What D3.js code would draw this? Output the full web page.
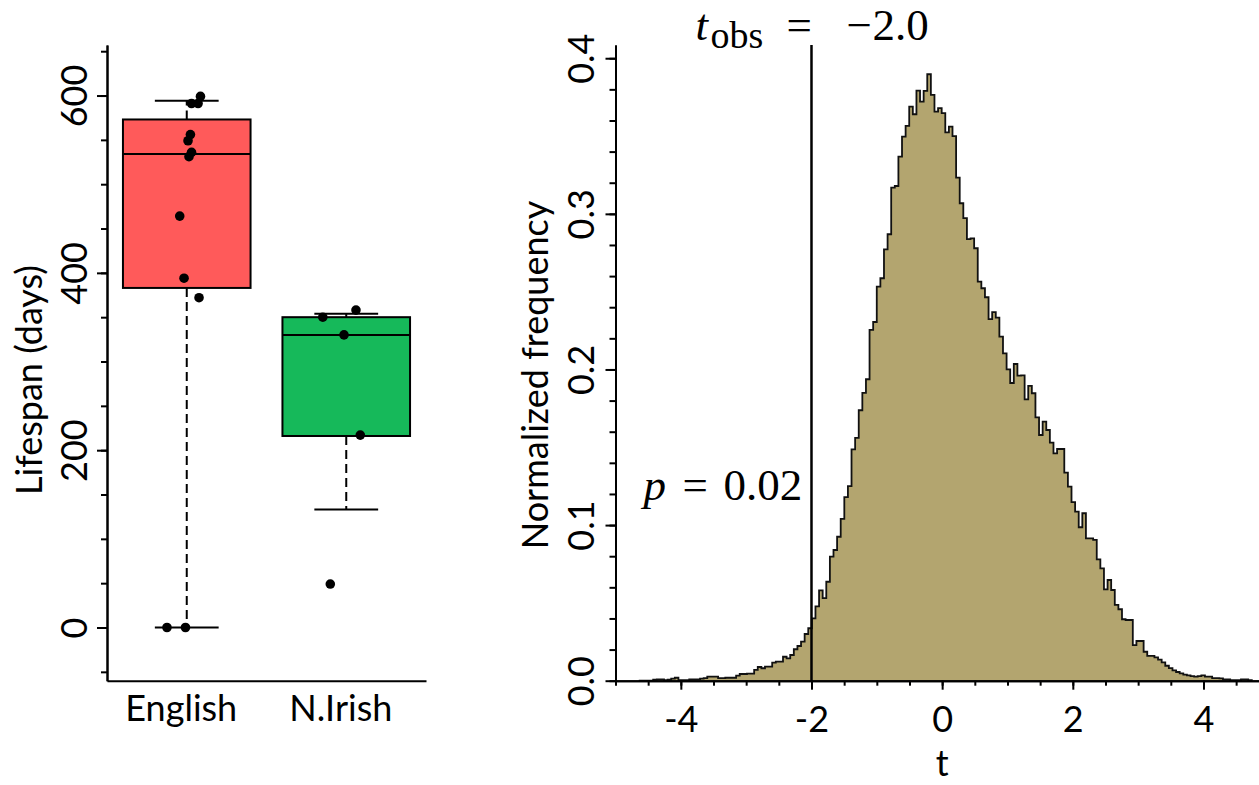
<!DOCTYPE html>
<html lang="en">
<head>
<meta charset="UTF-8">
<title>Lifespan and permutation t distribution</title>
<script src="https://d3js.org/d3.v7.min.js"></script>
<style>
  body { margin: 0; background: #fff; }
  svg text { font-family: Lato, "Open Sans", sans-serif; fill: #000; }
  .math { font-family: "Liberation Serif", "DejaVu Serif", serif; }
</style>
</head>
<body>
<svg width="1259" height="785"></svg>
<script>
// ---------- boxplot data ----------
const groups = ["English", "N.Irish"];
const groupColors = ["#FF5A5A", "#16B95A"];
const boxLow = [0, 133];
const boxQ1 = [383, 216];
const boxMedian = [534, 330];
const boxQ3 = [573, 350];
const boxHigh = [594, 354];
const englishDays = [599, 591, 591, 556, 549, 536, 531, 464, 394, 372, 0, 0];
const englishJitter = [0.086, 0.03, 0.071, 0.023, 0.008, 0.03, 0.014, -0.044, -0.017, 0.077, -0.124, -0.008];
const irishDays = [358, 350, 330, 217, 49];
const irishJitter = [0.061, -0.147, -0.014, 0.088, -0.1];
const lifespanTicks = [0, 200, 400, 600];

// ---------- histogram data (normalized frequency per bin) ----------
const binStart = -4.644;
const binWidth = 0.0552;
const freq = [
  0, 0, 0, 0, 0.0006, 0.0009, 0.0009, 0.0004, 0.0006, 0.0013,
  0.0019, 0.0004, 0.0004, 0.0004, 0.0009, 0.0009, 0.0009, 0.0013, 0.0016, 0.0026,
  0.0026, 0.0026, 0.0016, 0.0016, 0.0019, 0.0019, 0.0019, 0.0032, 0.0043, 0.0043,
  0.0045, 0.0045, 0.0069, 0.0088, 0.0080, 0.0090, 0.0090, 0.0116, 0.0122, 0.0122,
  0.0154, 0.0144, 0.0165, 0.0202, 0.0223, 0.0251, 0.0300, 0.0337, 0.0400, 0.0478,
  0.0580, 0.0530, 0.0636, 0.0797, 0.0840, 0.0925, 0.1040, 0.1180, 0.1250, 0.1487,
  0.1560, 0.1738, 0.1850, 0.1937, 0.2254, 0.2305, 0.2532, 0.2586, 0.2772, 0.2869,
  0.3168, 0.3179, 0.3368, 0.3496, 0.3565, 0.3689, 0.3640, 0.3792, 0.3721, 0.3790,
  0.3897, 0.3764, 0.3657, 0.3679, 0.3647, 0.3524, 0.3560, 0.3500, 0.3233, 0.3068,
  0.2972, 0.2837, 0.2843, 0.2779, 0.2564, 0.2522, 0.2464, 0.2323, 0.2368, 0.2333,
  0.2211, 0.2104, 0.2001, 0.1913, 0.2035, 0.1960, 0.1962, 0.1808, 0.1894, 0.1847,
  0.1692, 0.1579, 0.1665, 0.1611, 0.1530, 0.1461, 0.1489, 0.1489, 0.1337, 0.1247,
  0.1147, 0.1086, 0.0986, 0.1076, 0.0915, 0.0915, 0.0905, 0.0780, 0.0722, 0.0587,
  0.0647, 0.0583, 0.0487, 0.0459, 0.0395, 0.0390, 0.0390, 0.0229, 0.0255, 0.0255,
  0.0186, 0.0159, 0.0159, 0.0150, 0.0135, 0.0118, 0.0096, 0.0081, 0.0066, 0.0056,
  0.0047, 0.0039, 0.0034, 0.0030, 0.0026, 0.0030, 0.0034, 0.0026, 0.0026, 0.0017,
  0.0017, 0.0015, 0.0009, 0.0009, 0.0004, 0.0004, 0.0004, 0.0009, 0.0009, 0.0004
];
const tTicks = [-4, -2, 0, 2, 4];
const freqTicks = [0, 0.1, 0.2, 0.3, 0.4];
const tObs = -2.0;
const pValue = "0.02";

const svg = d3.select("svg");
const fontSize = 36;

// rotate tick labels so they read bottom to top, like the original
function rotateTickText(g, offset) {
  g.selectAll(".tick text")
    .attr("x", 0).attr("y", 0).attr("dy", null)
    .attr("text-anchor", "middle")
    .style("font-size", fontSize + "px")
    .attr("transform", `translate(${-offset},0) rotate(-90)`);
}
function styleAxis(g, width) {
  g.attr("font-family", null).attr("font-size", null);
  g.selectAll("path, line").attr("stroke", "#000").attr("stroke-width", width);
}

// ================= left panel: boxplot =================
const xBox = d3.scalePoint().domain(groups).range([107, 426]).padding(0.5);
const yBox = d3.scaleLinear().domain([-60, 657]).range([680.7, 45]);
const step = xBox.step();

// minor ticks
svg.append("g")
  .attr("transform", "translate(107,0)")
  .call(d3.axisLeft(yBox).tickValues(d3.range(-50, 651, 50)).tickSize(6).tickFormat("").tickSizeOuter(0))
  .call(g => styleAxis(g, 2));
// major ticks
svg.append("g")
  .attr("transform", "translate(107,0)")
  .call(d3.axisLeft(yBox).tickValues(lifespanTicks).tickSize(10).tickSizeOuter(0))
  .call(g => styleAxis(g, 2))
  .call(g => rotateTickText(g, 20));

svg.append("g")
  .attr("transform", "translate(0,680.7)")
  .call(d3.axisBottom(xBox).tickSize(0).tickPadding(15).tickSizeOuter(0))
  .call(g => styleAxis(g, 2))
  .call(g => g.selectAll(".tick text").style("font-size", fontSize + "px").attr("dx", -6));

svg.append("text")
  .attr("text-anchor", "middle")
  .attr("transform", "translate(42,380) rotate(-90)")
  .style("font-size", fontSize + "px")
  .text("Lifespan (days)");

const boxes = svg.append("g");
groups.forEach((g, i) => {
  const cx = xBox(g);
  const bw = step * 0.8;
  const cw = step * 0.4;
  // whiskers
  [[boxQ1[i], boxLow[i]], [boxQ3[i], boxHigh[i]]].forEach(([a, b]) => {
    boxes.append("line")
      .attr("x1", cx).attr("x2", cx)
      .attr("y1", yBox(a)).attr("y2", yBox(b))
      .attr("stroke", "#000").attr("stroke-width", 2)
      .attr("stroke-dasharray", "9,5");
  });
  [boxLow[i], boxHigh[i]].forEach(v => {
    boxes.append("line")
      .attr("x1", cx - cw / 2).attr("x2", cx + cw / 2)
      .attr("y1", yBox(v)).attr("y2", yBox(v))
      .attr("stroke", "#000").attr("stroke-width", 2);
  });
  boxes.append("rect")
    .attr("x", cx - bw / 2).attr("width", bw)
    .attr("y", yBox(boxQ3[i])).attr("height", yBox(boxQ1[i]) - yBox(boxQ3[i]))
    .attr("fill", groupColors[i])
    .attr("stroke", "#000").attr("stroke-width", 2);
  boxes.append("line")
    .attr("x1", cx - bw / 2).attr("x2", cx + bw / 2)
    .attr("y1", yBox(boxMedian[i])).attr("y2", yBox(boxMedian[i]))
    .attr("stroke", "#000").attr("stroke-width", 2);
});

const points = englishDays.map((v, i) => ({ g: "English", v, j: englishJitter[i] }))
  .concat(irishDays.map((v, i) => ({ g: "N.Irish", v, j: irishJitter[i] })));
svg.append("g").selectAll("circle")
  .data(points)
  .join("circle")
  .attr("cx", d => xBox(d.g) + d.j * step)
  .attr("cy", d => yBox(d.v))
  .attr("r", 4.8)
  .attr("fill", "#000");

// ================= right panel: histogram =================
const xT = d3.scaleLinear().domain([-5, 5]).range([615.5, 1268.8]);
const yF = d3.scaleLinear().domain([0, 0.4085]).range([680.7, 45]);

const bins = freq.map((f, i) => ({ t: binStart + i * binWidth, f }));
bins.push({ t: binStart + freq.length * binWidth, f: 0 });

svg.append("path")
  .datum(bins)
  .attr("fill", "#B3A56F")
  .attr("d", d3.area().curve(d3.curveStepAfter).x(d => xT(d.t)).y0(yF(0)).y1(d => yF(d.f)));
svg.append("path")
  .datum(bins)
  .attr("fill", "none")
  .attr("stroke", "#111")
  .attr("stroke-width", 1.8)
  .attr("d", d3.line().curve(d3.curveStepAfter).x(d => xT(d.t)).y(d => yF(d.f)));

// axes
svg.append("g")
  .attr("transform", "translate(615.5,0)")
  .call(d3.axisLeft(yF).tickValues(d3.range(0, 0.41, 0.02)).tickSize(6).tickFormat("").tickSizeOuter(0))
  .call(g => styleAxis(g, 2));
svg.append("g")
  .attr("transform", "translate(615.5,0)")
  .call(d3.axisLeft(yF).tickValues(freqTicks).tickSize(10).tickFormat(d3.format(".1f")).tickSizeOuter(0))
  .call(g => styleAxis(g, 2))
  .call(g => rotateTickText(g, 22));

svg.append("g")
  .attr("transform", "translate(0,680.7)")
  .call(d3.axisBottom(xT).tickValues(d3.range(-5, 5.01, 0.5)).tickSize(5).tickFormat("").tickSizeOuter(0))
  .call(g => styleAxis(g, 2));
svg.append("g")
  .attr("transform", "translate(0,680.7)")
  .call(d3.axisBottom(xT).tickValues(tTicks).tickSize(9).tickPadding(17).tickFormat(d3.format("d")).tickSizeOuter(0))
  .call(g => styleAxis(g, 2))
  .call(g => g.selectAll(".tick text").style("font-size", fontSize + "px").text(d => String(d)));

svg.append("text")
  .attr("x", xT(0)).attr("y", 776)
  .attr("text-anchor", "middle")
  .style("font-size", fontSize + "px")
  .text("t");

svg.append("text")
  .attr("text-anchor", "middle")
  .attr("transform", "translate(548,375) rotate(-90)")
  .style("font-size", fontSize + "px")
  .text("Normalized frequency");

// observed statistic
const xLine = xT(tObs);
svg.append("line")
  .attr("x1", xLine).attr("x2", xLine)
  .attr("y1", yF.range()[1]).attr("y2", yF(0))
  .attr("stroke", "#000").attr("stroke-width", 2.5);

const obs = svg.append("text").attr("class", "math").attr("y", 40).style("font-size", "45px");
obs.append("tspan").attr("x", xLine - 116).style("font-style", "italic").text("t");
obs.append("tspan").attr("x", xLine - 101).attr("dy", 8).style("font-size", "38px").text("obs");
obs.append("tspan").attr("x", xLine - 25).attr("dy", -8).text("=");
obs.append("tspan").attr("x", xLine + 35).text("\u2212");
obs.append("tspan").attr("x", xLine + 61).text(tObs.toFixed(1).replace("-", ""));

const pLab = svg.append("text").attr("class", "math").attr("y", 500).style("font-size", "45px");
pLab.append("tspan").attr("x", xLine - 168).style("font-style", "italic").text("p");
pLab.append("tspan").attr("x", xLine - 129).text("=");
pLab.append("tspan").attr("x", xLine - 88).text(pValue);
</script>
</body>
</html>
